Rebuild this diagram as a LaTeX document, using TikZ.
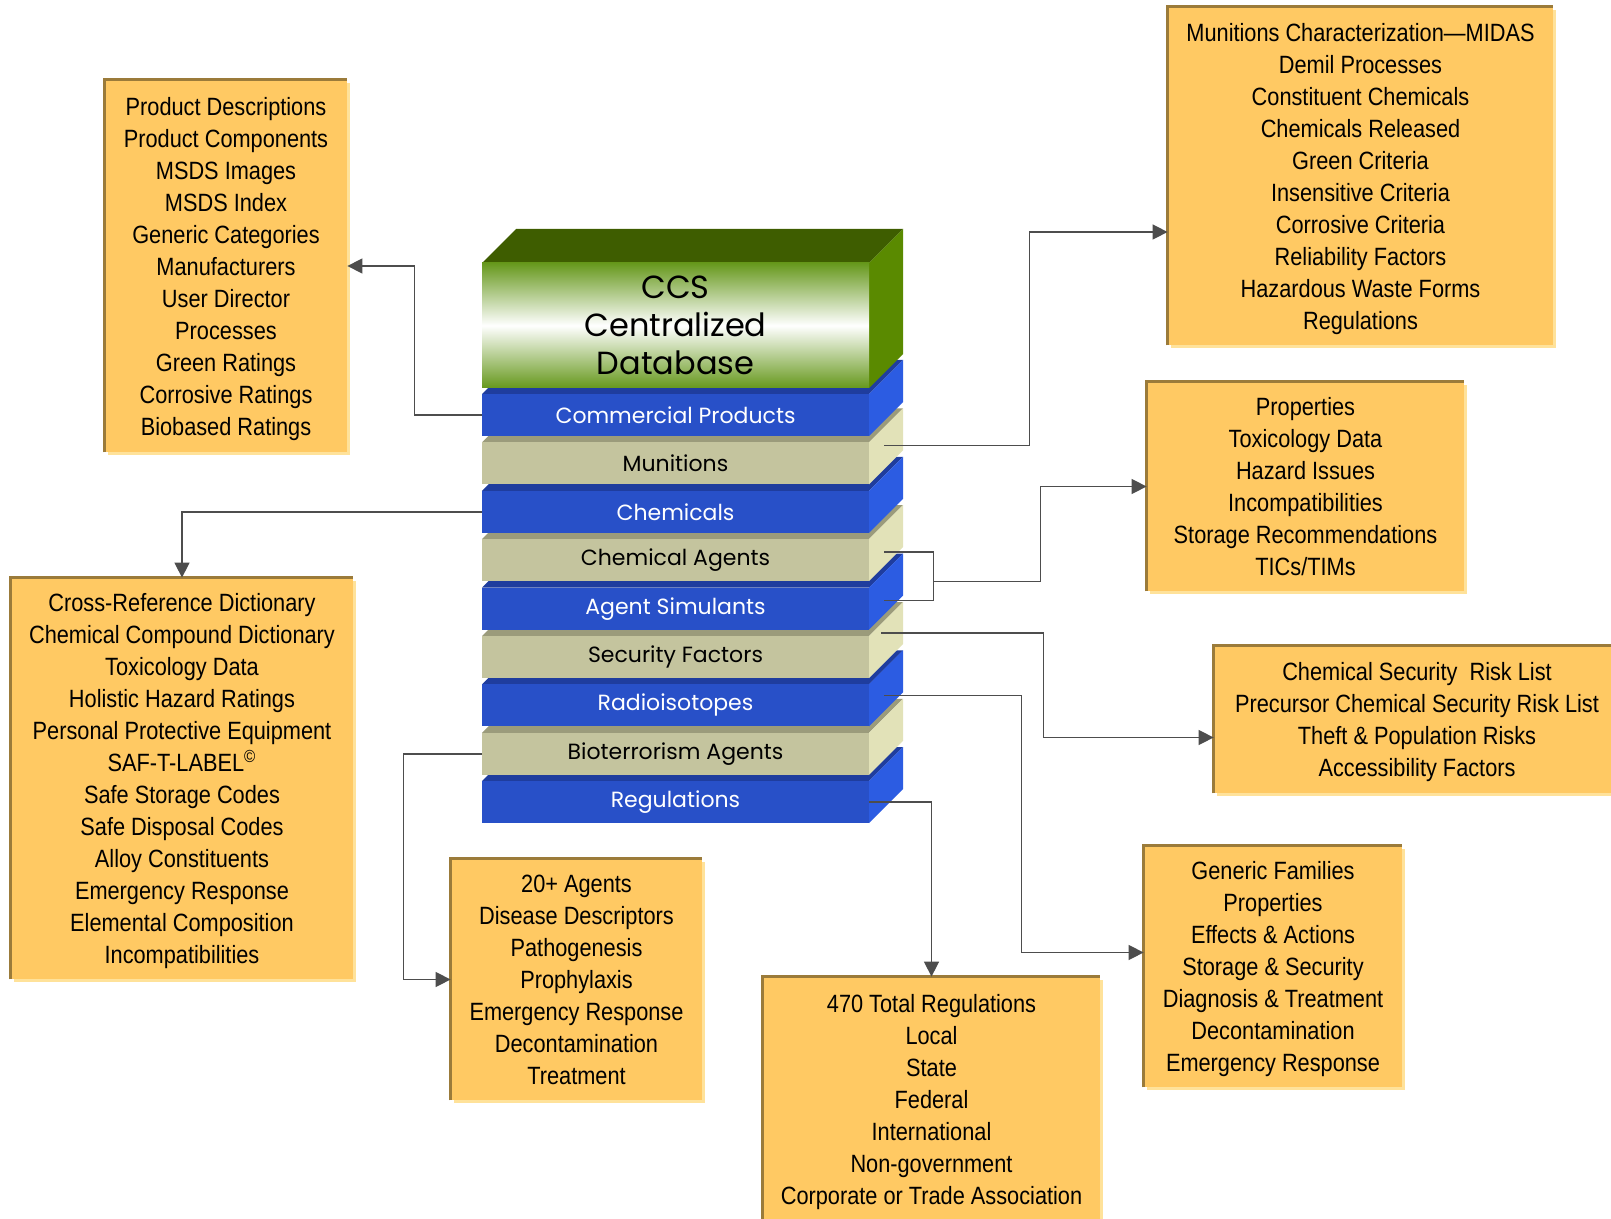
\documentclass[tikz,border=0pt]{standalone}
\usepackage{fontspec}
\usepackage{tikz}
\usetikzlibrary{arrows.meta,positioning,calc,shadows}
\newfontfamily\boxfont[FakeStretch=0.87]{Liberation Sans}
\newfontfamily\stackfont{Poppins}
\definecolor{boxfill}{HTML}{FFC963}
\definecolor{boxrim}{HTML}{9B7B3A}
\definecolor{boxlight}{HTML}{FFE29A}
\definecolor{wire}{HTML}{4D4D4D}
\definecolor{bluefront}{HTML}{2850C8}
\definecolor{blueside}{HTML}{2C5CE2}
\definecolor{bluetop}{HTML}{1F3D9E}
\definecolor{tanfront}{HTML}{C4C49E}
\definecolor{tanside}{HTML}{E2E2B8}
\definecolor{tantop}{HTML}{9B9B7B}
\definecolor{greentop}{HTML}{3E5D00}
\definecolor{greenside}{HTML}{5A8A00}
\definecolor{greenfront}{HTML}{66981C}
\tikzset{
    infobox/.style={fill=boxfill,inner sep=0pt,align=center,text depth=-4pt,
      font=\boxfont\fontsize{12.5}{16}\selectfont,
      drop shadow={shadow xshift=1.5pt,shadow yshift=-1.5pt,fill=boxlight,opacity=1}},
    rim/.style={draw=boxrim,line width=1.5pt},
    layer/.style={minimum width=193.5pt,minimum height=21pt,inner sep=0pt,
      font=\stackfont\fontsize{11}{12}\selectfont},
    blue-front/.style={layer,fill=bluefront,text=white},
    tan-front/.style={layer,fill=tanfront,text=black},
    blue-side/.style={fill=blueside},
    tan-side/.style={fill=tanside},
    blue-top/.style={fill=bluetop},
    tan-top/.style={fill=tantop},
    dbtitle/.style={minimum width=193.5pt,minimum height=62.5pt,inner sep=0pt,align=center,
      top color=greenfront,bottom color=greenfront,middle color=white,
      font=\stackfont\fontsize{16}{19}\selectfont},
    link/.style={draw=wire,line width=0.75pt,-{Triangle[length=7.5pt,width=7.5pt]}},
    bracket/.style={draw=wire,line width=0.75pt}
}
\begin{document}
\begin{tikzpicture}[x=0.5pt,y=-0.5pt]
    \useasboundingbox (0,0) rectangle (1611,1219);
    \foreach \i/\name/\kind/\lbl in {8/reg/blue/Regulations,7/bio/tan/Bioterrorism Agents,
        6/rad/blue/Radioisotopes,5/sec/tan/Security Factors,4/sim/blue/Agent Simulants,
        3/cag/tan/Chemical Agents,2/chem/blue/Chemicals,1/mun/tan/Munitions,
        0/cp/blue/Commercial Products}{
      \pgfmathsetmacro\yt{394+48.4*\i}
      \fill[\kind-top] (482,\yt) -- ++(34,-34) -- ++(387,0) -- ++(-34,34) -- cycle;
      \fill[\kind-side] (869,\yt) -- ++(34,-34) -- ++(0,42) -- ++(-34,34) -- cycle;
      \node[\kind-front] (\name) at (675.5,\yt+21) {\lbl};
    }
    \fill[greentop] (482,263) -- ++(34,-34) -- ++(387,0) -- ++(-34,34) -- cycle;
    \fill[greenside] (869,263) -- ++(34,-34) -- ++(0,125) -- ++(-34,34) -- cycle;
    \node[dbtitle] (ccs) at (675.5,325.5) {CCS\\Centralized\\Database};

    \node[infobox,minimum width=121pt,minimum height=186pt] (prod) at (226,266)
      {Product Descriptions\\Product Components\\MSDS Images\\MSDS Index\\Generic Categories\\
       Manufacturers\\User Director\\Processes\\Green Ratings\\Corrosive Ratings\\Biobased Ratings};
    \node[infobox,minimum width=192.5pt,minimum height=169pt] (munbox) at (1360.5,176)
      {Munitions Characterization—MIDAS\\Demil Processes\\Constituent Chemicals\\Chemicals Released\\
       Green Criteria\\Insensitive Criteria\\Corrosive Criteria\\Reliability Factors\\
       Hazardous Waste Forms\\Regulations};
    \node[infobox,minimum width=171pt,minimum height=200.5pt] (chembox) at (182,778.5)
      {Cross-Reference Dictionary\\Chemical Compound Dictionary\\Toxicology Data\\
       Holistic Hazard Ratings\\Personal Protective Equipment\\SAF-T-LABEL\textsuperscript{©}\\
       Safe Storage Codes\\Safe Disposal Codes\\Alloy Constituents\\Emergency Response\\
       Elemental Composition\\Incompatibilities};
    \node[infobox,minimum width=158.5pt,minimum height=104.5pt] (agbox) at (1305.5,486.5)
      {Properties\\Toxicology Data\\Hazard Issues\\Incompatibilities\\Storage Recommendations\\TICs/TIMs};
    \node[infobox,minimum width=203pt,minimum height=73.5pt] (secbox) at (1417,719.5)
      {Chemical Security\ \ Risk List\\Precursor Chemical Security Risk List\\
       Theft \& Population Risks\\Accessibility Factors};
    \node[infobox,minimum width=129pt,minimum height=120.5pt] (radbox) at (1273,966.5)
      {Generic Families\\Properties\\Effects \& Actions\\Storage \& Security\\
       Diagnosis \& Treatment\\Decontamination\\Emergency Response};
    \node[infobox,minimum width=168.5pt,minimum height=122pt] (regbox) at (931.5,1099)
      {470 Total Regulations\\Local\\State\\Federal\\International\\Non-government\\
       Corporate or Trade Association};
    \node[infobox,minimum width=125.5pt,minimum height=120.5pt] (biobox) at (576.5,979.5)
      {20+ Agents\\Disease Descriptors\\Pathogenesis\\Prophylaxis\\Emergency Response\\
       Decontamination\\Treatment};
    \foreach \b in {prod,munbox,chembox,agbox,secbox,radbox,regbox,biobox}
      \draw[rim] (\b.south west) |- (\b.north east);

    \draw[link] (cp.west) -- ++(-67,0) |- (prod.east);
    \draw[link] ($(mun.east)+(15,-18)$) -- ++(145,0) |- ($(munbox.west)+(0,56)$);
    \draw[link] (chem.west) -| (chembox.north);
    \draw[bracket] ($(cag.east)+(15,-8)$) -- ++(49,0) |- ($(sim.east)+(15,-8)$);
    \coordinate (brk) at ($(cag.east)!0.5!(sim.east)+(64,-3)$);
    \draw[link] (brk) -- ++(107,0) |- (agbox.west);
    \draw[link] ($(sec.east)+(12,-24)$) -- ++(162,0) |- ($(secbox.west)+(0,18)$);
    \draw[link] ($(rad.east)+(15,-10)$) -- ++(137,0) |- ($(radbox.west)+(0,-14)$);
    \draw[link] (reg.east) -| (regbox.north);
    \draw[link] (bio.west) -- ++(-78,0) |- (biobox.west);
\end{tikzpicture}
\end{document}
